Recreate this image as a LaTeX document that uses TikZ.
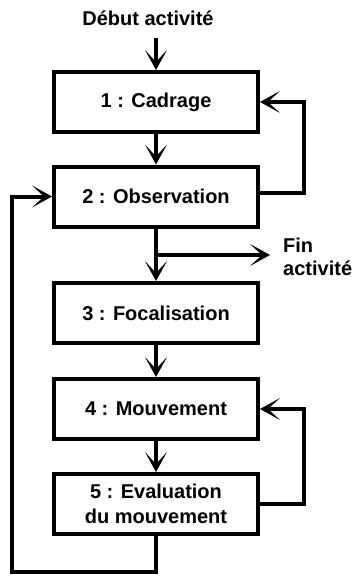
\documentclass[tikz,border=0pt]{standalone}
\usepackage{fontspec}
\setmainfont{Liberation Sans}
\usetikzlibrary{arrows.meta}
\begin{document}
\begin{tikzpicture}[x=1pt,y=-1pt,
  box/.style={draw,line width=4pt,minimum width=204pt,minimum height=60pt,inner sep=2pt,align=center,font=\fontsize{20}{25}\selectfont\bfseries},
  lbl/.style={font=\fontsize{20}{23}\selectfont\bfseries,inner sep=2pt},
  arr/.style={line width=4pt,-{Stealth[length=20pt,width=22pt,inset=12pt]}},
  ln/.style={line width=4pt}]
\useasboundingbox (0,0) rectangle (353,579);
\node[lbl] (deb) at (148,18) {Début activité};
\node[box] (b1) at (156,102) {1 : Cadrage};
\node[box] (b2) at (156,196.5) {2 : Observation};
\node[box] (b3) at (156,313) {3 : Focalisation};
\node[box] (b4) at (156,409) {4 : Mouvement};
\node[box] (b5) at (156,504) {5 : Evaluation\\du mouvement};
\node[lbl,anchor=west,align=left] (fin) at (281,257) {Fin\\activité};
\coordinate (dstart) at (156,38);
\coordinate (fork) at (156,255);
\coordinate (lb) at (12,572);
\draw[arr] (dstart) -- (b1.north);
\draw[arr] (b1.south) -- (b2.north);
\draw[arr] (b2.south) -- (b3.north);
\draw[arr,shorten >=11pt] (fork) -- (fork -| fin.west);
\draw[arr] (b3.south) -- (b4.north);
\draw[arr] (b4.south) -- (b5.north);
\draw[arr] ([yshift=3.5pt]b2.east) -- ++(44,0) |- (b1.east);
\draw[arr] (b5.east) -- ++(44,0) |- (b4.east);
\draw[arr] (b5.south) |- (lb) |- (b2.west);
\end{tikzpicture}
\end{document}
